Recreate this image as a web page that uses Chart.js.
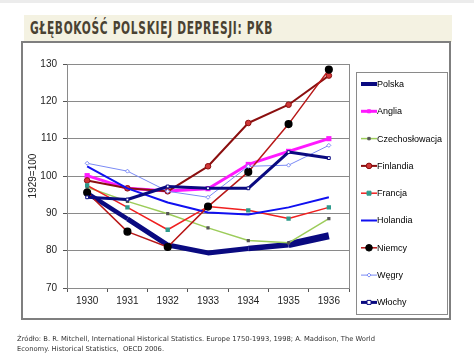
<!DOCTYPE html>
<html>
<head>
<meta charset="utf-8">
<script src="https://cdn.jsdelivr.net/npm/chart.js@4"></script>
<style>
  body { margin: 0; background: #fff; width: 474px; height: 353px; overflow: hidden; position: relative; font-family: "Liberation Sans", Arial, sans-serif; }
  #topStrip { position: absolute; left: 0; top: 0; width: 474px; height: 3px; background: #ececec; }
  #band { position: absolute; left: 24px; top: 15px; width: 428px; height: 27px; background: #f4f2e2; }
  #title { position: absolute; left: 30px; top: 18px; font-family: "DejaVu Sans Condensed", "DejaVu Sans", sans-serif; font-size: 17px; font-weight: bold; color: #4a4232; letter-spacing: 1px; transform-origin: left top; white-space: nowrap; }
  #frame { position: absolute; left: 21px; top: 41px; width: 426px; height: 275px; border: 2px solid #7f7f7f; background: #fff; }
  #chart { position: absolute; left: 0; top: 0; }
  #source { position: absolute; left: 17px; top: 335px; font-family: "DejaVu Sans", sans-serif; font-size: 6.8px; line-height: 9.5px; color: #333; white-space: nowrap; transform-origin: left top; }
</style>
</head>
<body>
<div id="topStrip"></div>
<div id="band"></div>
<div id="title">GŁĘBOKOŚĆ POLSKIEJ DEPRESJI: PKB</div>
<div id="frame"></div>
<canvas id="chart" width="474" height="353"></canvas>
<div id="source"><span id="srcLine">Źródło: B. R. Mitchell, International Historical Statistics. Europe 1750-1993, 1998; A. Maddison, The World</span><br>Economy. Historical Statistics,&nbsp; OECD 2006.</div>
<script>
// lata (1929 = 100)
const years = ['1930', '1931', '1932', '1933', '1934', '1935', '1936'];

const polska = [95.4, 88.5, 81.5, 79.4, 80.6, 81.6, 84.0];
const anglia = [100.1, 96.7, 96.0, 96.6, 103.1, 106.6, 110.0];
const czechoslowacja = [97.0, 93.2, 89.9, 86.1, 82.7, 82.1, 88.6];
const finlandia = [98.8, 96.7, 95.9, 102.6, 114.2, 119.1, 126.9];
const francja = [97.5, 91.6, 85.6, 91.8, 90.8, 88.6, 91.6];
const holandia = [102.6, 96.7, 92.9, 90.2, 89.7, 91.6, 94.3];
const niemcy = [95.6, 85.1, 81.0, 91.8, 101.1, 113.9, 128.5];
const wegry = [103.4, 101.3, 95.9, 94.3, 102.6, 102.9, 108.2];
const wlochy = [94.3, 93.7, 97.2, 96.7, 96.7, 106.4, 104.8];

const yTicks = [70, 80, 90, 100, 110, 120, 130];

// Fit the title and the source line to their widths in the reference
(function () {
    const t = document.getElementById('title');
    t.style.transform = 'scaleX(' + (243 / t.getBoundingClientRect().width) + ')';
    const s = document.getElementById('source');
    const w = document.getElementById('srcLine').getBoundingClientRect().width;
    s.style.transform = 'scaleX(' + (358 / w) + ')';
})();

const polskaWidths = [4.5, 5, 5, 5, 5.5, 7];

const datasets = [
    { label: 'Polska', data: polska, borderColor: '#0a0a80', borderWidth: 5, pointRadius: 0,
      segment: { borderWidth: ctx => polskaWidths[ctx.p0DataIndex] } },
    { label: 'Anglia', data: anglia, borderColor: '#ff19ff', backgroundColor: '#ff19ff', borderWidth: 3,
      pointStyle: 'rect', pointRadius: 1.5 },
    { label: 'Czechosłowacja', data: czechoslowacja, borderColor: '#9ccc5a', backgroundColor: '#555555', borderWidth: 1.5,
      pointStyle: 'rect', pointRadius: 1.2, pointBorderColor: '#555555' },
    { label: 'Finlandia', data: finlandia, borderColor: '#8b0f0f', backgroundColor: '#d03838', borderWidth: 2,
      pointStyle: 'circle', pointRadius: 2.8, pointBorderColor: '#8b0f0f', pointBorderWidth: 1 },
    { label: 'Francja', data: francja, borderColor: '#f02020', backgroundColor: '#2e9b8c', borderWidth: 1.5,
      pointStyle: 'rect', pointRadius: 2, pointBorderColor: '#2e9b8c' },
    { label: 'Holandia', data: holandia, borderColor: '#1010f0', borderWidth: 2, pointRadius: 0 },
    { label: 'Niemcy', data: niemcy, borderColor: '#b81818', backgroundColor: '#000000', borderWidth: 1.5,
      pointStyle: 'circle', pointRadius: 3.3, pointBorderColor: '#000000' },
    { label: 'Węgry', data: wegry, borderColor: '#7a8af5', backgroundColor: '#ffffff', borderWidth: 1,
      pointStyle: 'rectRot', pointRadius: 2, pointBorderColor: '#7a8af5' },
    { label: 'Włochy', data: wlochy, borderColor: '#0a0a80', backgroundColor: '#ffffff', borderWidth: 3,
      pointStyle: 'rect', pointRadius: 2, pointBorderColor: '#0a0a80', pointBorderWidth: 1 }
];
// later series drawn on top, as in the spreadsheet
datasets.forEach((d, i) => { d.tension = 0; d.fill = false; d.borderJoinStyle = 'round'; d.order = datasets.length - i; });

// plot frame (gray box around chart area)
const plotFrame = {
    id: 'plotFrame',
    beforeDatasetsDraw(chart) {
        const a = chart.chartArea;
        const ctx = chart.ctx;
        ctx.save();
        ctx.strokeStyle = '#8a8a8a';
        ctx.lineWidth = 1;
        ctx.strokeRect(a.left + 0.5, a.top + 0.5, a.right - a.left, a.bottom - a.top);
        ctx.restore();
    }
};

function drawMarker(ctx, ds, x, y) {
    const r = ds.pointRadius || 0;
    if (!r) return;
    ctx.save();
    ctx.fillStyle = ds.backgroundColor || ds.borderColor;
    ctx.strokeStyle = ds.pointBorderColor || ds.borderColor;
    ctx.lineWidth = ds.pointBorderWidth || 1;
    ctx.beginPath();
    if (ds.pointStyle === 'circle') {
        ctx.arc(x, y, r, 0, Math.PI * 2);
    } else if (ds.pointStyle === 'rectRot') {
        ctx.moveTo(x, y - r); ctx.lineTo(x + r, y); ctx.lineTo(x, y + r); ctx.lineTo(x - r, y); ctx.closePath();
    } else {
        ctx.rect(x - r, y - r, r * 2, r * 2);
    }
    ctx.fill();
    ctx.stroke();
    ctx.restore();
}

// legend in a bordered box, like the spreadsheet original
const boxLegend = {
    id: 'boxLegend',
    afterDraw(chart) {
        const ctx = chart.ctx;
        ctx.save();
        ctx.strokeStyle = '#8a8a8a';
        ctx.lineWidth = 1;
        ctx.strokeRect(356.5, 72.5, 91, 242);
        ctx.font = '9px "Liberation Sans", Arial, sans-serif';
        ctx.textBaseline = 'middle';
        ctx.fillStyle = '#000';
        chart.data.datasets.forEach((ds, i) => {
            const y = 84 + i * 27.3;
            ctx.save();
            ctx.strokeStyle = ds.borderColor;
            ctx.lineWidth = Math.min(ds.borderWidth, 4);
            ctx.beginPath();
            ctx.moveTo(361, y);
            ctx.lineTo(377, y);
            ctx.stroke();
            ctx.restore();
            drawMarker(ctx, ds, 369, y);
            ctx.fillText(ds.label, 377, y + 0.5);
        });
        ctx.restore();
    }
};

new Chart(document.getElementById('chart'), {
    type: 'line',
    data: { labels: years, datasets: datasets },
    plugins: [plotFrame, boxLegend],
    options: {
        responsive: false,
        animation: false,
        layout: { padding: { left: 27, right: 125, top: 64, bottom: 0 } },
        plugins: { legend: { display: false }, tooltip: { enabled: false } },
        scales: {
            x: {
                offset: true,
                afterFit: s => { s.height = 65; },
                grid: { offset: true, drawOnChartArea: false, drawTicks: true, tickLength: 4, color: '#555' },
                border: { color: '#555', width: 1 },
                ticks: { color: '#222', font: { size: 10, family: '"Liberation Sans", Arial' }, padding: 3 }
            },
            y: {
                min: 70,
                max: 130,
                afterFit: s => { s.width = 40; },
                afterBuildTicks: s => { s.ticks = yTicks.map(v => ({ value: v })); },
                grid: { color: '#8a8a8a', tickLength: 4, tickColor: '#555' },
                border: { color: '#555', width: 1 },
                ticks: { color: '#222', font: { size: 10, family: '"Liberation Sans", Arial' }, padding: 6 },
                title: { display: true, text: '1929=100', color: '#222', font: { size: 10, family: '"Liberation Sans", Arial' }, padding: 0 }
            }
        }
    }
});
</script>
</body>
</html>
